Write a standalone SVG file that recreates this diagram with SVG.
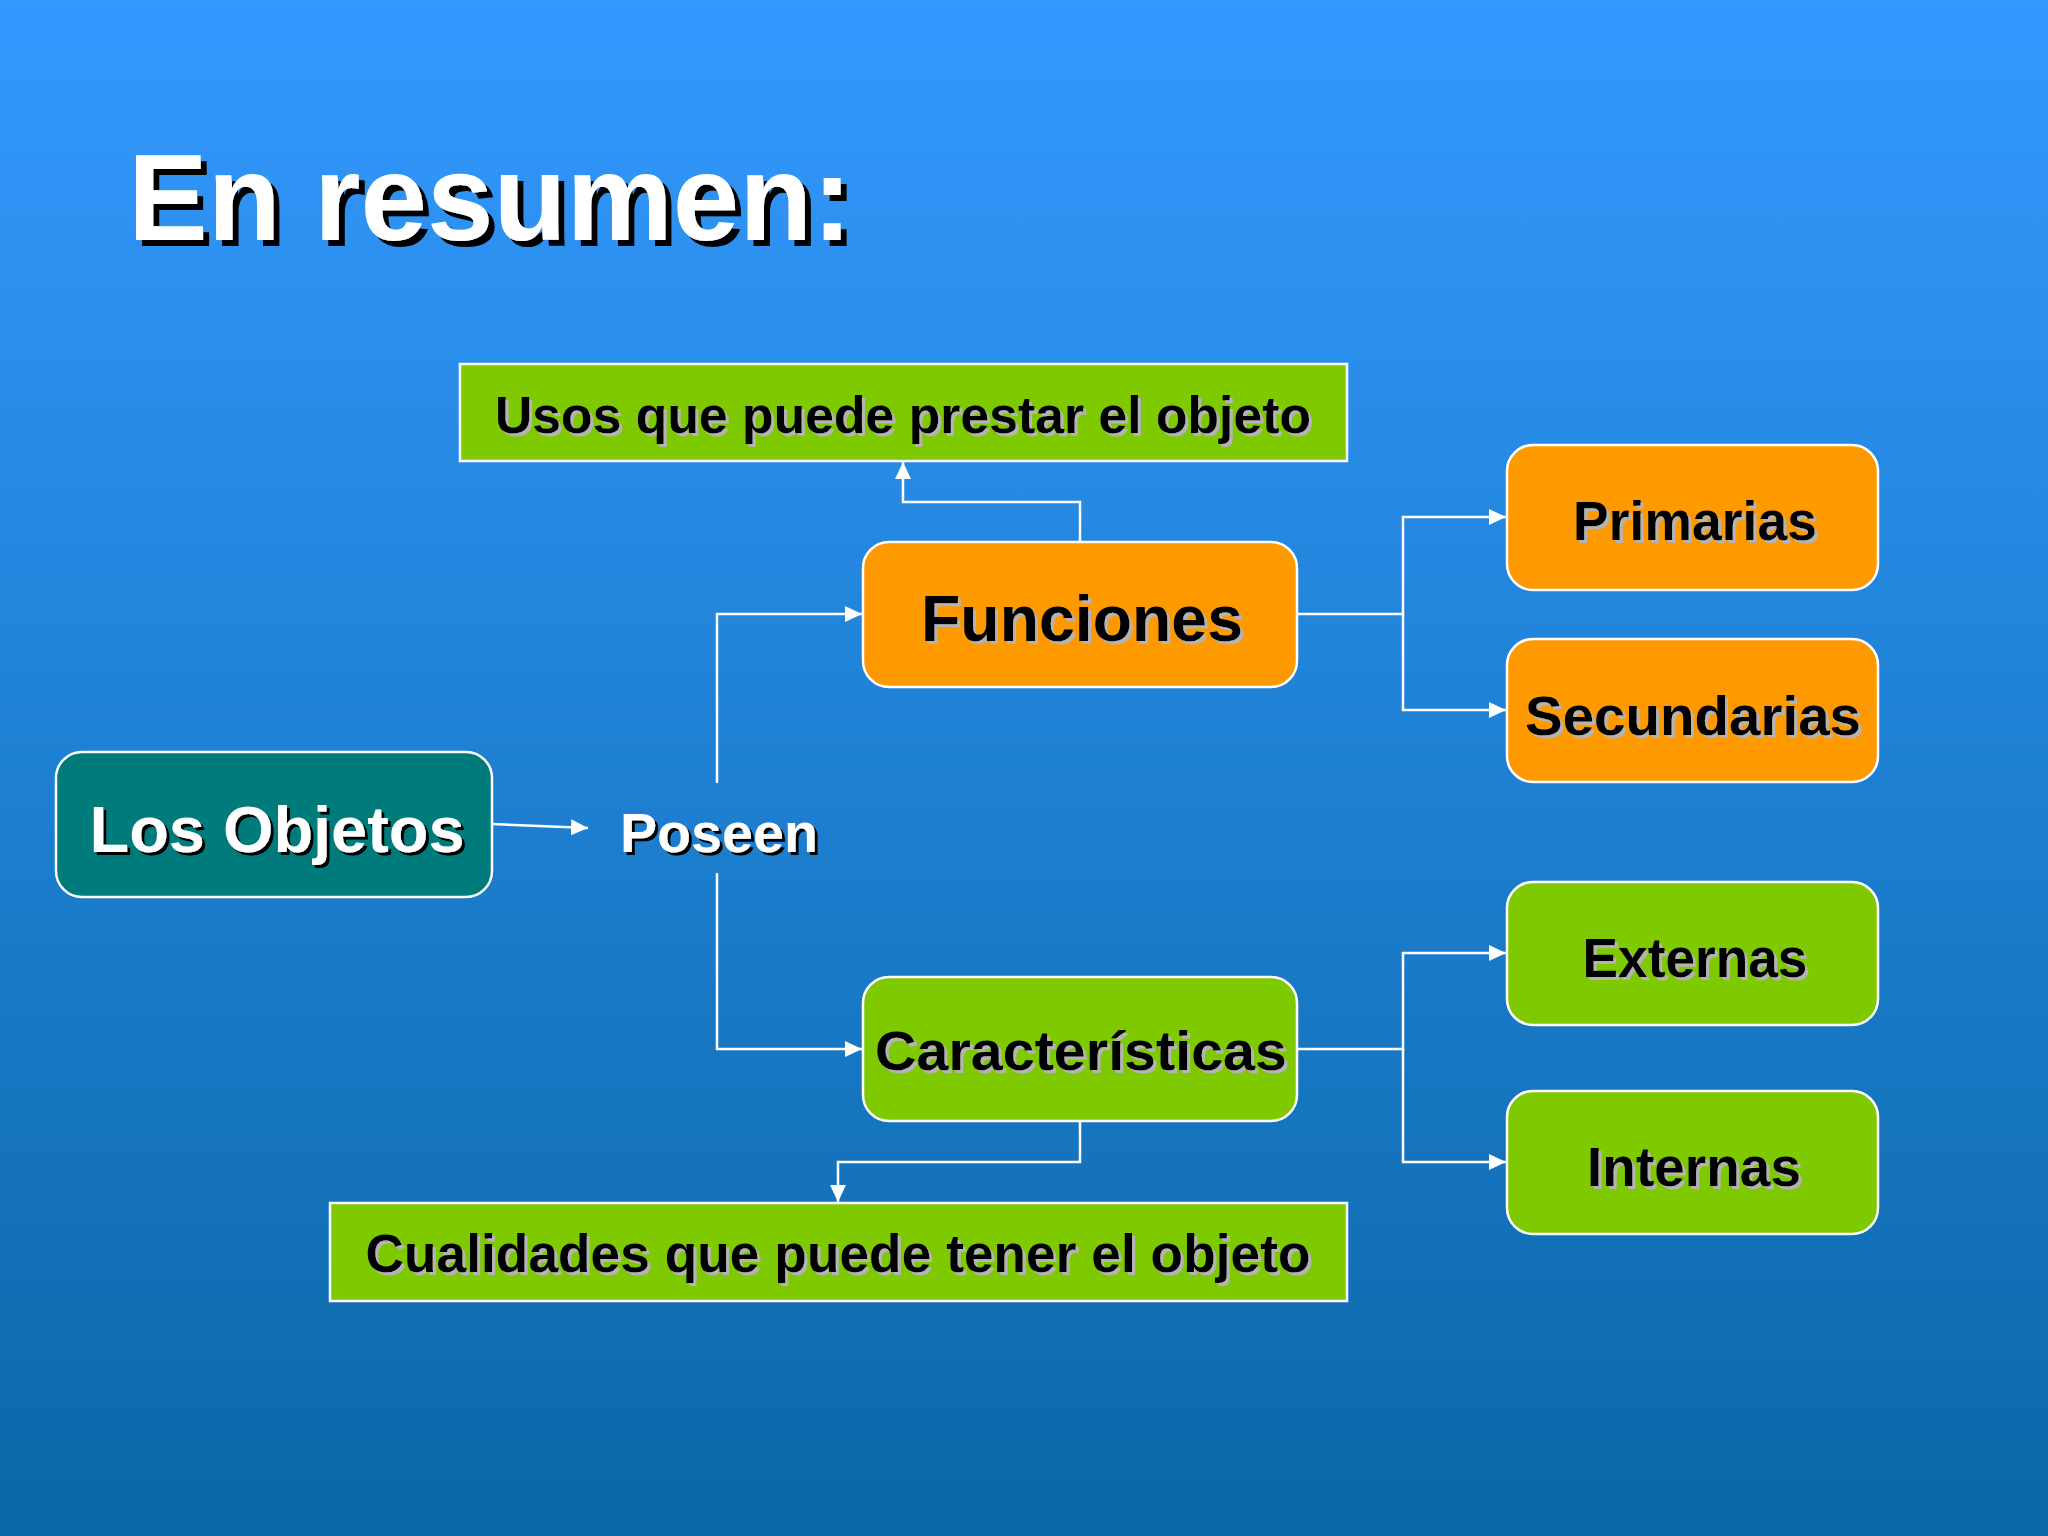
<svg xmlns="http://www.w3.org/2000/svg" width="2048" height="1536" viewBox="0 0 2048 1536">
  <defs>
    <linearGradient id="bg" x1="0" y1="0" x2="0" y2="1">
      <stop offset="0" stop-color="#3399FF"/>
      <stop offset="1" stop-color="#0A67A6"/>
    </linearGradient>
    <filter id="shBlack" x="-5%" y="-20%" width="115%" height="150%">
      <feDropShadow dx="3" dy="3" stdDeviation="0" flood-color="#000000" flood-opacity="1"/>
    </filter>
    <filter id="shTitle" x="-5%" y="-20%" width="115%" height="150%">
      <feDropShadow dx="6" dy="6" stdDeviation="0" flood-color="#000000" flood-opacity="1"/>
    </filter>
    <filter id="shGray" x="-5%" y="-20%" width="115%" height="150%">
      <feDropShadow dx="3" dy="3" stdDeviation="0" flood-color="#B4B4B4" flood-opacity="1"/>
    </filter>
    <marker id="arrow" markerUnits="userSpaceOnUse" markerWidth="18" markerHeight="16" refX="17" refY="8" orient="auto">
      <path d="M0,0 L17,8 L0,16 Z" fill="#FFFFFF"/>
    </marker>
  </defs>
  <style>
    .lbl { font-family: "Liberation Sans", Arial, sans-serif; font-weight: bold; text-anchor: middle; }
    .dark { fill: #000000; filter: url(#shGray); }
    .light { fill: #FFFFFF; filter: url(#shBlack); }
    .orange { fill: #FF9900; stroke: #FFFFFF; stroke-width: 2.5; }
    .green { fill: #7FC900; stroke: #FFFFFF; stroke-width: 2.5; }
    .teal { fill: #007B7B; stroke: #FFFFFF; stroke-width: 2.5; }
    .conn { fill: none; stroke: #FFFFFF; stroke-width: 2.5; marker-end: url(#arrow); }
  </style>

  <rect x="0" y="0" width="2048" height="1536" fill="url(#bg)"/>

  <text x="128" y="240" font-family="'Liberation Sans', Arial, sans-serif" font-weight="bold" font-size="122" fill="#FFFFFF" filter="url(#shTitle)" textLength="724" lengthAdjust="spacingAndGlyphs">En resumen:</text>

  <g id="connectors">
    <path class="conn" d="M492,824 L588,828"/>
    <path class="conn" d="M717,783 V614 H862"/>
    <path class="conn" d="M717,873 V1049 H862"/>
    <path class="conn" d="M1080,542 V502 H903 V462"/>
    <path class="conn" d="M1080,1121 V1162 H838 V1202"/>
    <path class="conn" d="M1297,614 H1403 V517 H1506"/>
    <path class="conn" d="M1403,614 V710 H1506"/>
    <path class="conn" d="M1297,1049 H1403 V953 H1506"/>
    <path class="conn" d="M1403,1049 V1162 H1506"/>
  </g>

  <g id="node-usos">
    <rect class="green" x="460" y="364" width="887" height="97"/>
    <text class="lbl dark" x="903" y="433" font-size="52" textLength="816" lengthAdjust="spacingAndGlyphs">Usos que puede prestar el objeto</text>
  </g>

  <g id="node-funciones">
    <rect class="orange" x="863" y="542" width="434" height="145" rx="26" ry="26"/>
    <text class="lbl dark" x="1082" y="641" font-size="64" textLength="322" lengthAdjust="spacingAndGlyphs">Funciones</text>
  </g>

  <g id="node-primarias">
    <rect class="orange" x="1507" y="445" width="371" height="145" rx="26" ry="26"/>
    <text class="lbl dark" x="1695" y="540" font-size="55" textLength="244" lengthAdjust="spacingAndGlyphs">Primarias</text>
  </g>

  <g id="node-secundarias">
    <rect class="orange" x="1507" y="639" width="371" height="143" rx="26" ry="26"/>
    <text class="lbl dark" x="1693" y="735" font-size="55" textLength="336" lengthAdjust="spacingAndGlyphs">Secundarias</text>
  </g>

  <g id="node-objetos">
    <rect class="teal" x="56" y="752" width="436" height="145" rx="26" ry="26"/>
    <text class="lbl light" x="277" y="852" font-size="64" textLength="375" lengthAdjust="spacingAndGlyphs">Los Objetos</text>
  </g>

  <g id="node-poseen">
    <text class="lbl light" x="719" y="852" font-size="55" textLength="198" lengthAdjust="spacingAndGlyphs">Poseen</text>
  </g>

  <g id="node-caracteristicas">
    <rect class="green" x="863" y="977" width="434" height="144" rx="26" ry="26"/>
    <text class="lbl dark" x="1081" y="1070" font-size="56" textLength="412" lengthAdjust="spacingAndGlyphs">Características</text>
  </g>

  <g id="node-externas">
    <rect class="green" x="1507" y="882" width="371" height="143" rx="26" ry="26"/>
    <text class="lbl dark" x="1695" y="977" font-size="55" textLength="225" lengthAdjust="spacingAndGlyphs">Externas</text>
  </g>

  <g id="node-internas">
    <rect class="green" x="1507" y="1091" width="371" height="143" rx="26" ry="26"/>
    <text class="lbl dark" x="1694" y="1186" font-size="55" textLength="214" lengthAdjust="spacingAndGlyphs">Internas</text>
  </g>

  <g id="node-cualidades">
    <rect class="green" x="330" y="1203" width="1017" height="98"/>
    <text class="lbl dark" x="838" y="1272" font-size="53" textLength="945" lengthAdjust="spacingAndGlyphs">Cualidades que puede tener el objeto</text>
  </g>
</svg>
